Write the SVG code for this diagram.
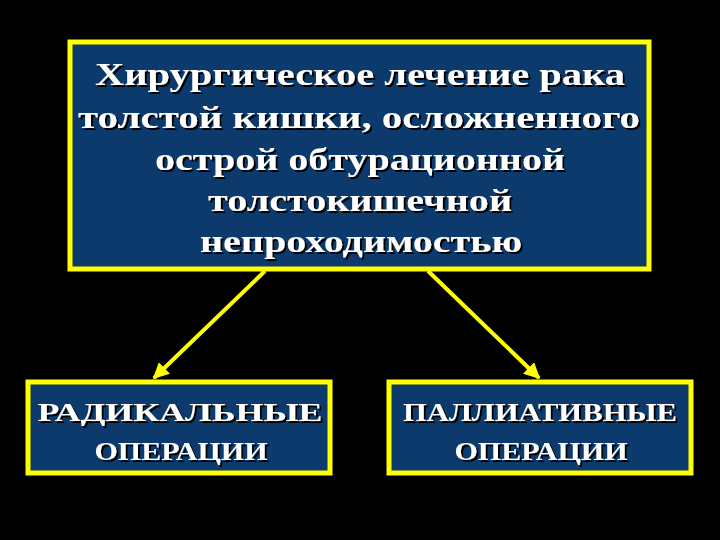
<svg xmlns="http://www.w3.org/2000/svg" width="720" height="540" viewBox="0 0 720 540">
<defs>
<style>
.box{fill:#0d3a6c;stroke:#ffff00;stroke-width:5}
.t{font-family:"Liberation Serif",serif;font-weight:bold;fill:#ffffff;text-anchor:middle;filter:url(#sh)}
.c{stroke:#ffff00;stroke-width:4;fill:none}
</style>
<filter id="sh" x="-5%" y="-20%" width="110%" height="140%"><feDropShadow dx="2" dy="2" stdDeviation="0.5" flood-color="#000000"/></filter>
<marker id="ah" viewBox="0 0 10 10" refX="9" refY="5" markerWidth="4" markerHeight="4" orient="auto" markerUnits="strokeWidth"><path d="M0,0L10,5L0,10z" fill="#ffff00"/></marker>
</defs>
<rect width="720" height="540" fill="#000000"/>
<g id="connectors">
<line class="c" x1="265" y1="271" x2="154" y2="378" marker-end="url(#ah)"/>
<line class="c" x1="428" y1="271" x2="539" y2="378" marker-end="url(#ah)"/>
</g>
<g id="top">
<rect class="box" x="70" y="42" width="579" height="227"/>
<g class="t" font-size="32">
<text x="360" y="85" textLength="530" lengthAdjust="spacingAndGlyphs">Хирургическое лечение рака</text>
<text x="359" y="128" textLength="562" lengthAdjust="spacingAndGlyphs">толстой кишки, осложненного</text>
<text x="360" y="170" textLength="410" lengthAdjust="spacingAndGlyphs">острой обтурационной</text>
<text x="360" y="211" textLength="304" lengthAdjust="spacingAndGlyphs">толстокишечной</text>
<text x="361" y="252" textLength="322" lengthAdjust="spacingAndGlyphs">непроходимостью</text>
</g>
</g>
<g id="left">
<rect class="box" x="28" y="382" width="302" height="91"/>
<g class="t" font-size="26">
<text x="180" y="421" textLength="285" lengthAdjust="spacingAndGlyphs">РАДИКАЛЬНЫЕ</text>
<text x="181" y="460" textLength="173" lengthAdjust="spacingAndGlyphs">ОПЕРАЦИИ</text>
</g>
</g>
<g id="right">
<rect class="box" x="389" y="382" width="302" height="91"/>
<g class="t" font-size="26">
<text x="540" y="421" textLength="274" lengthAdjust="spacingAndGlyphs">ПАЛЛИАТИВНЫЕ</text>
<text x="541" y="460" textLength="173" lengthAdjust="spacingAndGlyphs">ОПЕРАЦИИ</text>
</g>
</g>
</svg>
